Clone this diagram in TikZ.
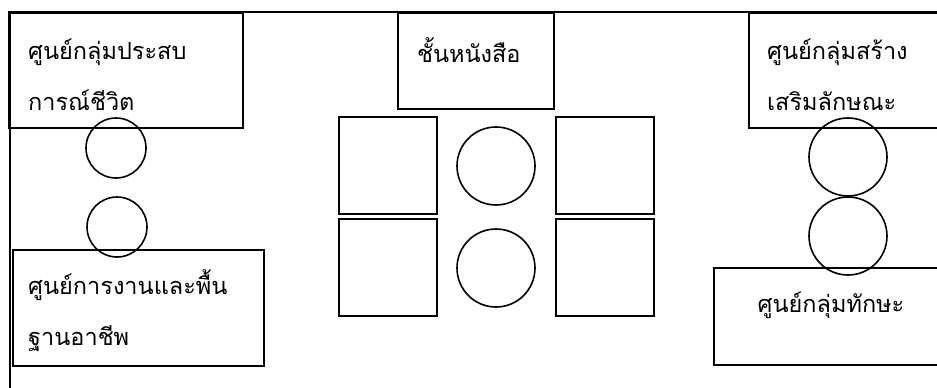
\documentclass[tikz,border=0pt]{standalone}
\usepackage{fontspec}
\newfontfamily\thaifont[Script=Thai]{Loma}
\usepackage{tikz}
\usetikzlibrary{positioning,calc}

\begin{document}
\begin{tikzpicture}[x=1pt,y=-1pt,
  zone/.style={draw,line width=1.6pt,rectangle,anchor=north west,inner sep=0pt},
  seat/.style={draw,line width=1.6pt,circle,inner sep=0pt},
  lbl/.style={font=\thaifont\fontsize{23.5}{51}\selectfont,align=left,inner sep=0pt}]
\useasboundingbox (0,0) rectangle (937,388);
\draw[line width=1.6pt] (8,12)--(945,12);
\draw[line width=1.6pt] (10,12)--(10,395);
\node[zone,minimum width=234pt,minimum height=115pt] (grpexp) at (8,12) {};
\node[zone,minimum width=156pt,minimum height=96pt] (books) at (397,12) {};
\node[zone,minimum width=200pt,minimum height=115pt] (grpchar) at (748,12) {};
\node[zone,minimum width=251pt,minimum height=116pt] (work) at (12,249) {};
\node[zone,minimum width=230pt,minimum height=97pt] (skill) at (713,267) {};
\foreach \n/\x/\y in {deska/338/116,deskb/338/218,deskc/555/116,deskd/555/218}{
  \node[zone,minimum width=98pt,minimum height=97pt] (\n) at (\x,\y) {};}
\foreach \n/\x/\y/\r in {seata/116/148/30,seatb/117/227/30,seatc/496/166/39,seatd/496/268/39,seate/848/157/39,seatf/848/236/39}{
  \node[seat,minimum size=2*\r pt] (\n) at (\x,\y) {};}
\node[lbl,anchor=west] (grpexptxt) at ($(grpexp.north west)+(20,63)$) {ศูนย์กลุ่มประสบ\\การณ์ชีวิต};
\node[lbl] (bookstxt) at ($(books.north)+(-7,38)$) {ชั้นหนังสือ};
\node[lbl,anchor=west] (grpchartxt) at ($(grpchar.north west)+(19,63)$) {ศูนย์กลุ่มสร้าง\\เสริมลักษณะ};
\node[lbl,anchor=west] (worktxt) at ($(work.north west)+(16,62)$) {ศูนย์การงานและพื้น\\ฐานอาชีพ};
\node[lbl] (skilltxt) at ($(skill.north west)+(118,38)$) {ศูนย์กลุ่มทักษะ};
\end{tikzpicture}
\end{document}
